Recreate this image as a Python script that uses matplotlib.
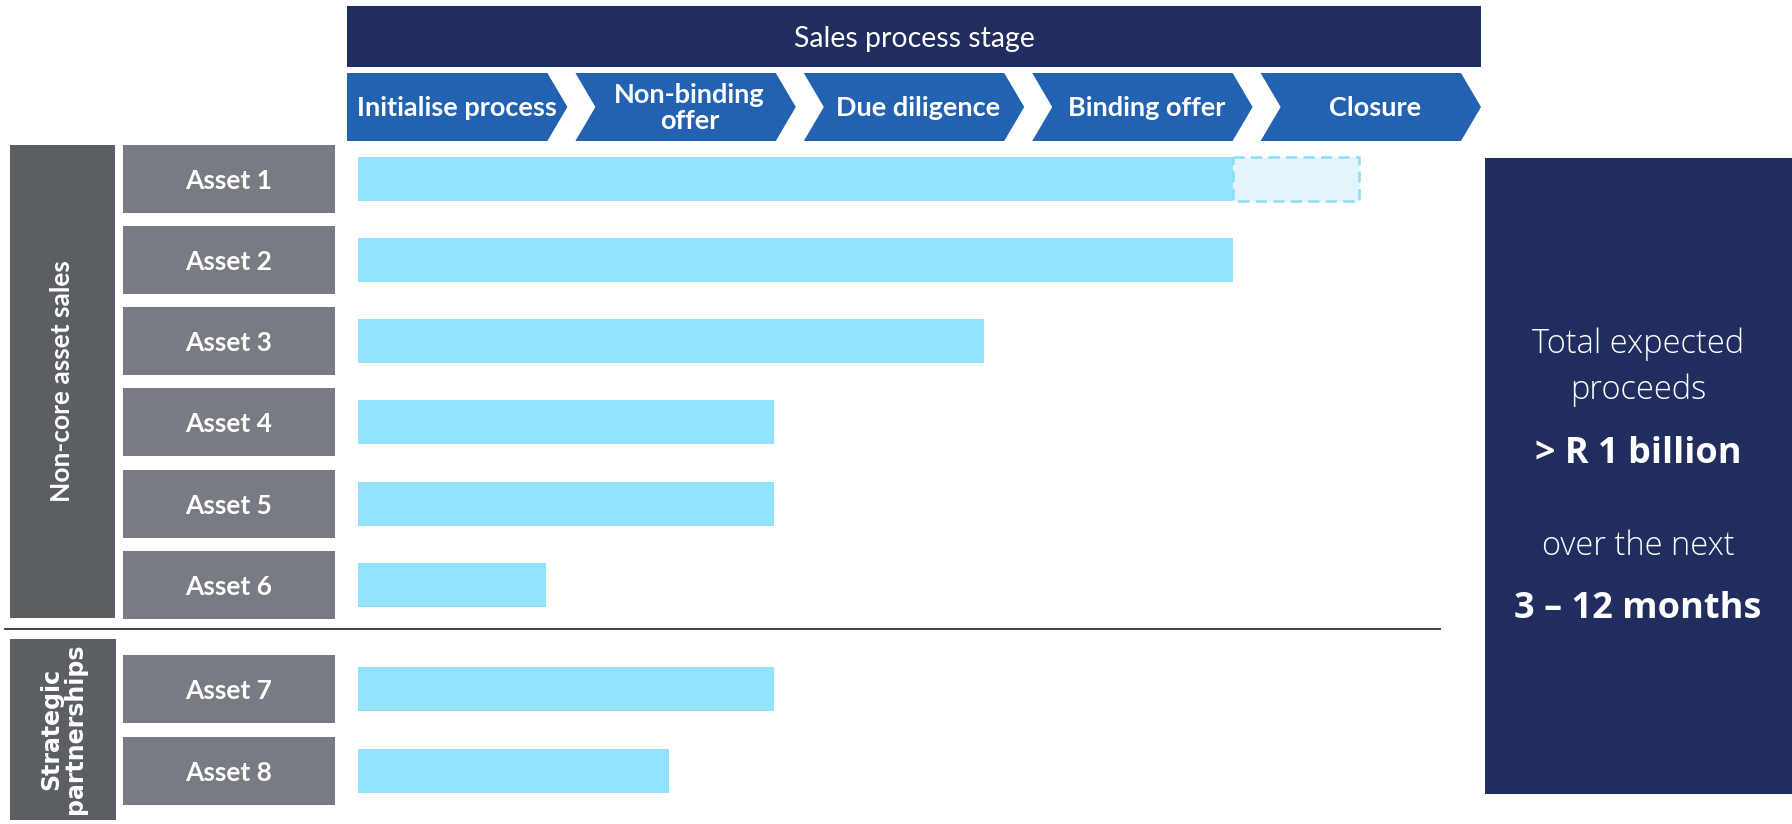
import matplotlib.pyplot as plt
from matplotlib.patches import Rectangle, Polygon

# data
stages = ["Initialise process", "Non-binding\noffer", "Due diligence", "Binding offer", "Closure"]
assets = ["Asset 1", "Asset 2", "Asset 3", "Asset 4", "Asset 5", "Asset 6", "Asset 7", "Asset 8"]
groups = ["Non-core asset sales", "Strategic\npartnerships"]
progress_start = 0.05
progress_end = [3.88, 3.88, 2.79, 1.87, 1.87, 0.87, 1.87, 1.41]
expected_end = [4.43, None, None, None, None, None, None, None]
summary = ["Total expected", "proceeds", "> R 1 billion", "over the next", "3 \u2013 12 months"]

# layout (pixels)
W, H = 1792, 824
row_y = [179, 260, 341, 422, 504, 585, 689, 771]
stage_x0, stage_w, gap, tip = 347, 228.4, 8, 20

NAVY = "#212d5f"
CHEV = "#2262b0"
BAR = "#93e3fd"
BOX = "#797b83"
GRP = "#5b5e63"

fig = plt.figure(figsize=(W / 100, H / 100), dpi=100)
bg = fig.add_axes([0, 0, 1, 1])
bg.set_xlim(0, W)
bg.set_ylim(H, 0)
bg.axis("off")

# header
bg.add_patch(Rectangle((347, 6), 1134, 61, color=NAVY, lw=0))
bg.text(914, 39, "Sales process stage", color="white", fontsize=20.5,
        family="Lato", ha="center", va="center")

# chevrons
top, bot = 73, 141
mid = (top + bot) / 2
for i, name in enumerate(stages):
    s = stage_x0 + i * stage_w
    e = s + stage_w - gap
    pts = [(s, top), (e - tip, top), (e, mid), (e - tip, bot), (s, bot)]
    if i > 0:
        pts.append((s + tip, mid))
    bg.add_patch(Polygon(pts, closed=True, color=CHEV, lw=0))
    cx = s + (stage_w - gap) / 2 + (4 if i > 0 else 0)
    bg.text(cx, mid + 1, name, color="white", fontsize=19.5, fontweight="bold",
            family="Lato", ha="center", va="center", linespacing=1.1)

# group boxes
bg.add_patch(Rectangle((10, 145), 105, 473, color=GRP, lw=0))
bg.text(62, 381, groups[0], color="white", fontsize=19, fontweight="bold",
        family="Lato", rotation=90, ha="center", va="center")
bg.add_patch(Rectangle((10, 639), 106, 181, color=GRP, lw=0))
bg.text(63, 729, groups[1], color="white", fontsize=17, fontweight="bold",
        family="DejaVu Sans", rotation=90, ha="center", va="center", linespacing=1.0)

# asset boxes
for y, name in zip(row_y, assets):
    bg.add_patch(Rectangle((123, y - 34), 212, 68, color=BOX, lw=0))
    bg.text(229, y + 2, name, color="white", fontsize=19, fontweight="bold",
            family="Lato", ha="center", va="center")

# separator
bg.plot([5, 1440], [629, 629], color="#333333", lw=1.3)

# summary box
bg.add_patch(Rectangle((1485, 158), 307, 636, color=NAVY, lw=0))
sum_y = [344, 390, 454, 546, 609]
sum_bold = [False, False, True, False, True]
for y, t, b in zip(sum_y, summary, sum_bold):
    bg.text(1638, y, t, color="white", fontsize=26 if b else 23.5,
            fontweight="bold" if b else "light", family="Open Sans",
            ha="center", va="center")

# bars
ax = fig.add_axes([stage_x0 / W, 0, 5 * stage_w / W, 1])
ax.set_xlim(0, 5)
ax.set_ylim(H, 0)
ax.axis("off")
ax.patch.set_visible(False)
widths = [e - progress_start for e in progress_end]
ax.barh(row_y, widths, left=progress_start, height=44, color=BAR, lw=0)
for y, e, t in zip(row_y, progress_end, expected_end):
    if t is not None:
        ax.barh(y, t - e, left=e, height=44, facecolor="#e3f5fc", edgecolor="#8fdcf7",
                lw=1.8, linestyle=(0, (4.5, 2.5)))

fig.savefig("out.png", dpi=100)
